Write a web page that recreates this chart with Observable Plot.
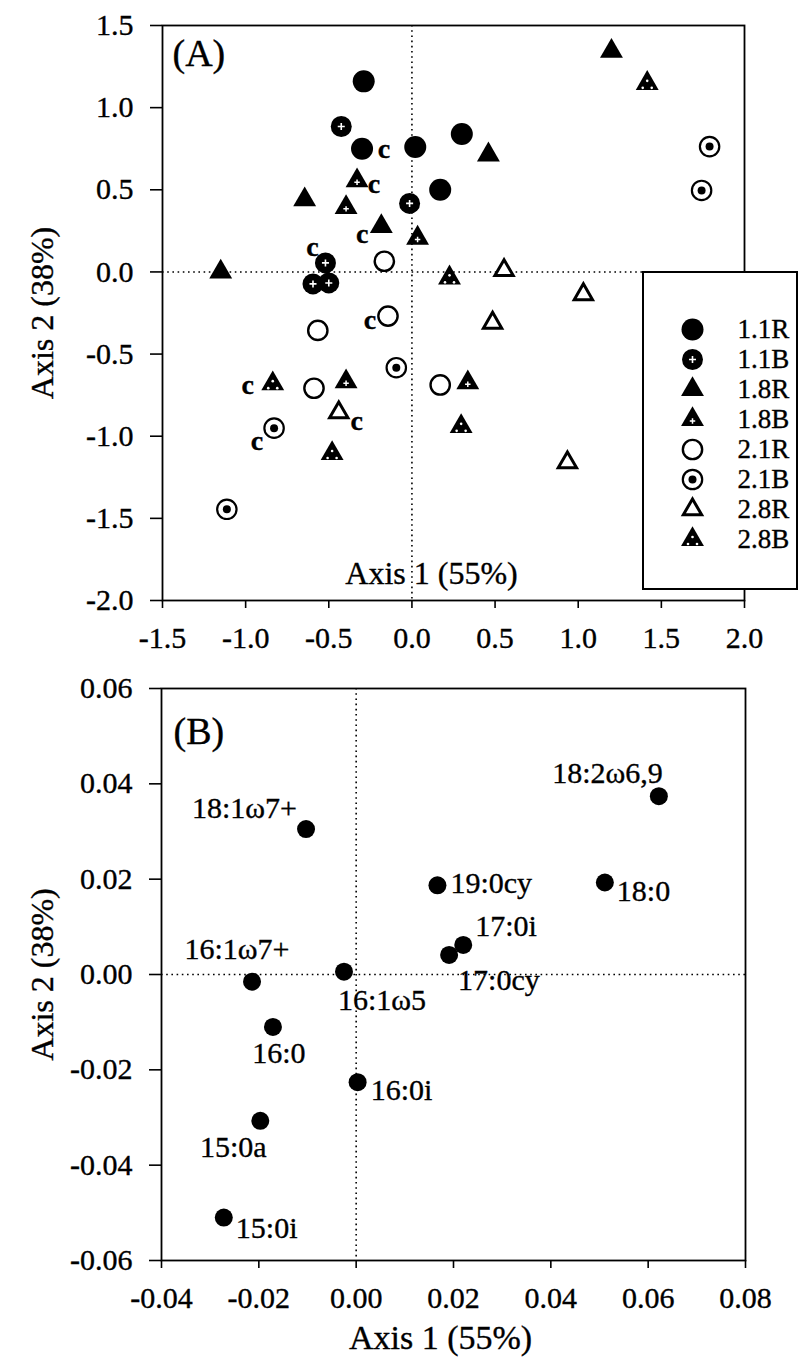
<!DOCTYPE html>
<html><head><meta charset="utf-8">
<script src="https://cdn.jsdelivr.net/npm/d3@7"></script>
<script src="https://cdn.jsdelivr.net/npm/@observablehq/plot@0.6"></script>
<style>
html,body{margin:0;padding:0;background:#fff;}
#wrap{position:relative;width:799px;height:1361px;overflow:hidden;background:#fff;}
#wrap svg{display:block;}
#wrap svg text{stroke:#000;stroke-width:0.35px;}
#legend{position:absolute;left:642px;top:271px;width:156px;height:319px;border:2px solid #000;background:#fff;box-sizing:border-box;}
</style></head>
<body><div id="wrap"><div id="panelA"></div><div id="legend"></div><div id="panelB"></div></div>
<script>
// ---------- Panel A data (sample scores) ----------
const groups = ["1.1R","1.1B","1.8R","1.8B","2.1R","2.1B","2.8R","2.8B"];
const sampleGroup = [
  "1.1R","1.1R","1.1R","1.1R","1.1R",
  "1.1B","1.1B","1.1B","1.1B","1.1B",
  "1.8R","1.8R","1.8R","1.8R","1.8R",
  "1.8B","1.8B","1.8B","1.8B","1.8B",
  "2.1R","2.1R","2.1R","2.1R","2.1R",
  "2.1B","2.1B","2.1B","2.1B","2.1B",
  "2.8R","2.8R","2.8R","2.8R","2.8R",
  "2.8B","2.8B","2.8B","2.8B","2.8B"];
const axis1A = [
  -0.29,-0.30,0.02,0.30,0.17,
  -0.425,-0.014,-0.52,-0.595,-0.50,
  -0.645,-0.184,-1.15,1.20,0.46,
  -0.33,-0.396,0.034,-0.396,0.336,
  -0.166,-0.144,-0.566,-0.589,0.17,
  1.79,1.742,-0.094,-0.829,-1.113,
  0.554,1.031,0.485,0.935,-0.44,
  0.226,1.415,-0.837,0.296,-0.48];
const axis2A = [
  1.16,0.75,0.76,0.84,0.50,
  0.885,0.417,0.055,-0.073,-0.067,
  0.44,0.277,0.0,1.344,0.713,
  0.555,0.393,0.206,-0.668,-0.674,
  0.065,-0.269,-0.356,-0.708,-0.688,
  0.763,0.496,-0.583,-0.951,-1.445,
  0.01,-0.137,-0.31,-1.16,-0.856,
  -0.036,1.148,-0.68,-0.94,-1.105];
const sampleNote = [
  "","c","","","",
  "","","c","","",
  "","c","","","",
  "c","","","","",
  "","c","","","",
  "","","","c","",
  "","","","","c",
  "","","c","",""];
const xTicksA = [-1.5,-1.0,-0.5,0.0,0.5,1.0,1.5,2.0];
const yTicksA = [-2.0,-1.5,-1.0,-0.5,0.0,0.5,1.0,1.5];

// ---------- Panel B data (fatty acid loadings) ----------
const acids = ["18:2\u03c96,9","18:1\u03c97+","19:0cy","18:0","17:0i","17:0cy","16:1\u03c97+","16:1\u03c95","16:0","16:0i","15:0a","15:0i"];
const axis1B = [0.0622,-0.0103,0.0167,0.0511,0.022,0.0191,-0.0214,-0.0025,-0.0171,0.0003,-0.0197,-0.0272];
const axis2B = [0.0374,0.0305,0.0187,0.0193,0.0062,0.0041,-0.0015,0.0006,-0.011,-0.0226,-0.0307,-0.051];
const xTicksB = [-0.04,-0.02,0.00,0.02,0.04,0.06,0.08];
const yTicksB = [-0.06,-0.04,-0.02,0.00,0.02,0.04,0.06];

// ---------- layout / style (not data) ----------
const noteOffset = {"1.1R":[22,0],"1.1B":[-13,-16],"1.8R":[-19,8],"1.8B":[17,3],"2.1R":[-18,4],"2.1B":[-17,13],"2.8R":[18,8],"2.8B":[-25,1]};
const labelPlace = {
  "18:2\u03c96,9":["end",4,-22.5],
  "18:1\u03c97+":["end",-9,-21],
  "19:0cy":["start",13,-2],
  "18:0":["start",12,9],
  "17:0i":["start",12,-19],
  "17:0cy":["start",9,25],
  "16:1\u03c97+":["middle",-15,-32.5],
  "16:1\u03c95":["start",-6,29],
  "16:0":["middle",6,26],
  "16:0i":["start",13,8],
  "15:0a":["middle",-27,27],
  "15:0i":["start",12,11]
};
const FONT = "'Liberation Serif','Times New Roman',serif";
const K = "#000";
const TRI_R = 8.5;

const samples = sampleGroup.map((g,i) => ({group:g, a1:axis1A[i], a2:axis2A[i], note:sampleNote[i]}));
const loadings = acids.map((a,i) => ({acid:a, a1:axis1B[i], a2:axis2B[i]}));

function markerMarks(g, data, pos) {
  const off = (dx, dy) => ({...pos, dx:(pos.dx||0)+dx, dy:(pos.dy||0)+dy});
  switch (g) {
    case "1.1R": return [Plot.dot(data, {...pos, r:11, fill:K})];
    case "1.1B": return [Plot.dot(data, {...pos, r:10.5, fill:K}),
                         Plot.dot(data, {...off(0,0), r:2.4, symbol:"plus", stroke:"#fff", strokeWidth:1.6})];
    case "1.8R": return [Plot.dot(data, {...pos, r:TRI_R, symbol:"triangle", fill:K})];
    case "1.8B": return [Plot.dot(data, {...pos, r:TRI_R, symbol:"triangle", fill:K}),
                         Plot.dot(data, {...off(0,1.5), r:1.9, symbol:"plus", stroke:"#fff", strokeWidth:1.5})];
    case "2.1R": return [Plot.dot(data, {...pos, r:9.65, fill:"#fff", stroke:K, strokeWidth:2.4})];
    case "2.1B": return [Plot.dot(data, {...pos, r:9.7, fill:"#fff", stroke:K, strokeWidth:2.2}),
                         Plot.dot(data, {...pos, r:4, fill:K})];
    case "2.8R": return [Plot.dot(data, {...pos, r:6.8, symbol:"triangle", fill:"#fff", stroke:K, strokeWidth:3, strokeLinejoin:"miter"})];
    case "2.8B": return [Plot.dot(data, {...pos, r:TRI_R, symbol:"triangle", fill:K}),
                         ...[[0,-2.5],[-4.5,4.5],[4.5,4.5]].map(([a,b]) => Plot.dot(data, {...off(a,b), r:1.3, fill:"#fff"}))];
  }
  return [];
}

const dotted = {strokeDasharray:"1.6,3.6", strokeWidth:1.6, stroke:K};

// ---------- Panel A ----------
const plotA = Plot.plot({
  width:799, height:660,
  marginLeft:162, marginRight:55, marginTop:25, marginBottom:60,
  style:{fontFamily:FONT, fontSize:"30px", color:K, background:"#fff"},
  x:{domain:[-1.5,2.0]},
  y:{domain:[-2.0,1.5]},
  marks:[
    Plot.ruleX([0], dotted),
    Plot.ruleY([0], dotted),
    Plot.frame({stroke:K, strokeWidth:1.8}),
    Plot.axisX({ticks:xTicksA, tickFormat:d=>d.toFixed(1), tickSize:8, tickPadding:18, strokeWidth:1.6, fontSize:30, label:null}),
    Plot.axisY({ticks:yTicksA, tickFormat:d=>d.toFixed(1), tickSize:12, tickPadding:17, strokeWidth:1.6, fontSize:30, label:null}),
    ...groups.flatMap(g => markerMarks(g, samples.filter(d => d.group === g), {x:"a1", y:"a2"})),
    ...groups.map(g => Plot.text(samples.filter(d => d.group === g && d.note), {
      x:"a1", y:"a2", text:"note", dx:noteOffset[g][0], dy:noteOffset[g][1],
      fontSize:28, fontWeight:"bold", fill:K})),
    Plot.text(["(A)"], {frameAnchor:"top-left", text:d=>d, dx:10, dy:28, textAnchor:"start", lineAnchor:"middle", fontSize:38, fill:K}),
    Plot.text(["Axis 1 (55%)"], {frameAnchor:"bottom", text:d=>d, dx:-22, dy:-27, textAnchor:"middle", lineAnchor:"middle", fontSize:32, fill:K}),
    Plot.text(["Axis 2 (38%)"], {frameAnchor:"left", text:d=>d, dx:-120, rotate:-90, textAnchor:"middle", lineAnchor:"middle", fontSize:32, fill:K})
  ]
});
document.getElementById("panelA").appendChild(plotA);

// ---------- Legend ----------
const legend = Plot.plot({
  width:152, height:315, margin:0,
  style:{fontFamily:FONT, fontSize:"27px", color:K, background:"#fff"},
  y:{type:"point", domain:groups, range:[37,284], axis:null},
  marks:[
    ...groups.flatMap(g => markerMarks(g, [g], {y:d=>d, frameAnchor:"left", dx:48})),
    Plot.text(groups, {y:d=>d, text:d=>d, frameAnchor:"left", dx:93, textAnchor:"start", lineAnchor:"middle", fontSize:27, fill:K})
  ]
});
document.getElementById("legend").appendChild(legend);

// ---------- Panel B ----------
const plotB = Plot.plot({
  width:799, height:701,
  marginLeft:161, marginRight:54, marginTop:28, marginBottom:101,
  style:{fontFamily:FONT, fontSize:"30px", color:K, background:"#fff"},
  x:{domain:[-0.04,0.08]},
  y:{domain:[-0.06,0.06]},
  marks:[
    Plot.ruleX([0], dotted),
    Plot.ruleY([0], dotted),
    Plot.frame({stroke:K, strokeWidth:1.8}),
    Plot.axisX({ticks:xTicksB, tickFormat:d=>d.toFixed(2), tickSize:8, tickPadding:18, strokeWidth:1.6, fontSize:30, label:null}),
    Plot.axisY({ticks:yTicksB, tickFormat:d=>d.toFixed(2), tickSize:12, tickPadding:17, strokeWidth:1.6, fontSize:30, label:null}),
    Plot.dot(loadings, {x:"a1", y:"a2", r:9, fill:K}),
    ...loadings.map(d => {
      const [anchor, dx, dy] = labelPlace[d.acid];
      return Plot.text([d], {x:"a1", y:"a2", text:"acid", textAnchor:anchor, dx, dy, fontSize:30, fill:K});
    }),
    Plot.text(["(B)"], {frameAnchor:"top-left", text:d=>d, dx:12, dy:43, textAnchor:"start", lineAnchor:"middle", fontSize:38, fill:K}),
    Plot.text(["Axis 1 (55%)"], {frameAnchor:"bottom", text:d=>d, dx:-13, dy:78, textAnchor:"middle", lineAnchor:"middle", fontSize:34, fill:K}),
    Plot.text(["Axis 2 (38%)"], {frameAnchor:"left", text:d=>d, dx:-119, rotate:-90, textAnchor:"middle", lineAnchor:"middle", fontSize:32, fill:K})
  ]
});
document.getElementById("panelB").appendChild(plotB);
</script>
</body></html>
